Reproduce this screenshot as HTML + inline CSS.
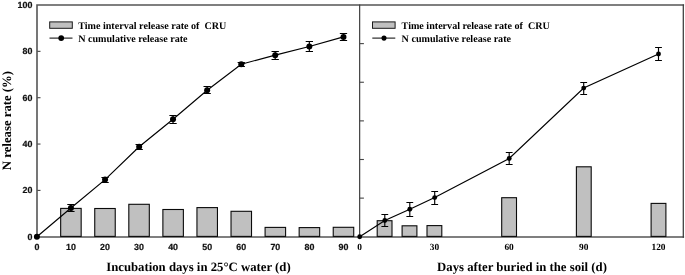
<!DOCTYPE html>
<html><head><meta charset="utf-8"><title>N release rate</title>
<style>
html,body{margin:0;padding:0;background:#fff;}
body{width:685px;height:275px;overflow:hidden;}
svg{display:block;will-change:transform;filter:grayscale(1) blur(0.3px);}
text{font-family:"Liberation Serif",serif;font-weight:bold;fill:#000;text-rendering:geometricPrecision;}
.s{font-family:"Liberation Sans",sans-serif;font-weight:bold;font-size:8.9px;fill:#111;stroke:#111;stroke-width:0.2px;}
.r{font-size:9.4px;}
.lg{font-size:10.1px;}
.tt{font-size:12.75px;}
</style></head><body>
<svg width="685" height="275" viewBox="0 0 685 275">
<rect width="685" height="275" fill="#fff"/>
<g fill="none" stroke-linecap="square">
<path d="M37.0 237.0V5.0H683.3" stroke="#555" stroke-width="1.6"/>
<path d="M37.0 237.0H683.3" stroke="#555" stroke-width="1.6"/>
<path d="M683.3 5.0V237.0" stroke="#3a3a3a" stroke-width="1.25"/>
<path d="M359.65 5.0V237.0" stroke="#404040" stroke-width="1.2"/>
</g>
<g fill="#c0c0c0" stroke="#0a0a0a" stroke-width="1.1">
<rect x="60.67" y="208.40" width="20.5" height="28.00"/>
<rect x="94.74" y="208.50" width="20.5" height="27.90"/>
<rect x="128.81" y="204.30" width="20.5" height="32.10"/>
<rect x="162.88" y="209.50" width="20.5" height="26.90"/>
<rect x="196.95" y="207.60" width="20.5" height="28.80"/>
<rect x="231.02" y="211.30" width="20.5" height="25.10"/>
<rect x="265.09" y="227.40" width="20.5" height="9.00"/>
<rect x="299.16" y="227.60" width="20.5" height="8.80"/>
<rect x="333.23" y="227.30" width="20.5" height="9.10"/>
<rect x="377.20" y="220.70" width="14.8" height="15.70"/>
<rect x="402.10" y="225.80" width="14.8" height="10.60"/>
<rect x="427.00" y="225.60" width="14.8" height="10.80"/>
<rect x="501.70" y="197.70" width="14.8" height="38.70"/>
<rect x="576.40" y="166.80" width="14.8" height="69.60"/>
<rect x="651.10" y="203.40" width="14.8" height="33.00"/>
</g>
<g stroke="#444" stroke-width="1.1">
<path d="M37.3 190.40h3.2"/>
<path d="M37.3 144.05h3.2"/>
<path d="M37.3 97.70h3.2"/>
<path d="M37.3 51.35h3.2"/>
<path d="M359.7 198.12h4.2"/>
<path d="M359.7 159.50h4.2"/>
<path d="M359.7 120.88h4.2"/>
<path d="M359.7 82.25h4.2"/>
<path d="M359.7 43.62h4.2"/>
</g>
<text class="s" x="32.4" y="239.60" text-anchor="end">0</text>
<text class="s" x="32.4" y="193.25" text-anchor="end">20</text>
<text class="s" x="32.4" y="146.90" text-anchor="end">40</text>
<text class="s" x="32.4" y="100.55" text-anchor="end">60</text>
<text class="s" x="32.4" y="54.20" text-anchor="end">80</text>
<text class="s" x="32.4" y="7.85" text-anchor="end">100</text>
<text class="s" x="36.85" y="249.9" text-anchor="middle">0</text>
<text class="s" x="70.92" y="249.9" text-anchor="middle">10</text>
<text class="s" x="104.99" y="249.9" text-anchor="middle">20</text>
<text class="s" x="139.06" y="249.9" text-anchor="middle">30</text>
<text class="s" x="173.13" y="249.9" text-anchor="middle">40</text>
<text class="s" x="207.20" y="249.9" text-anchor="middle">50</text>
<text class="s" x="241.27" y="249.9" text-anchor="middle">60</text>
<text class="s" x="275.34" y="249.9" text-anchor="middle">70</text>
<text class="s" x="309.41" y="249.9" text-anchor="middle">80</text>
<text class="s" x="343.48" y="249.9" text-anchor="middle">90</text>
<text class="r" x="359.70" y="250" text-anchor="middle">0</text>
<text class="r" x="434.40" y="250" text-anchor="middle">30</text>
<text class="r" x="509.10" y="250" text-anchor="middle">60</text>
<text class="r" x="583.80" y="250" text-anchor="middle">90</text>
<text class="r" x="658.50" y="250" text-anchor="middle">120</text>
<g stroke="#000" stroke-width="1.15" fill="none">
<polyline points="36.9,236.75 70.92,207.96 105.07,179.6 139.17,146.8 173.03,119.26 207.15,90.26 241.27,64.19 275.2,55.14 309.34,46.44 343.47,36.88"/>
<path d="M70.92 204.5V211.5M67.27 204.5h7.3M67.27 211.5h7.3"/>
<path d="M105.07 177.5V182.5M101.42 177.5h7.3M101.42 182.5h7.3"/>
<path d="M139.17 144.5V149.5M135.52 144.5h7.3M135.52 149.5h7.3"/>
<path d="M173.03 115.5V123.5M169.38 115.5h7.3M169.38 123.5h7.3"/>
<path d="M207.15 86.5V93.5M203.50 86.5h7.3M203.50 93.5h7.3"/>
<path d="M241.27 62.5V66.5M237.62 62.5h7.3M237.62 66.5h7.3"/>
<path d="M275.2 51.5V59.5M271.55 51.5h7.3M271.55 59.5h7.3"/>
<path d="M309.34 41.5V51.5M305.69 41.5h7.3M305.69 51.5h7.3"/>
<path d="M343.47 33.5V40.5M339.82 33.5h7.3M339.82 40.5h7.3"/>
</g>
<g fill="#000">
<circle cx="36.9" cy="236.75" r="3.0"/>
<circle cx="70.92" cy="207.96" r="3.0"/>
<circle cx="105.07" cy="179.6" r="3.0"/>
<circle cx="139.17" cy="146.8" r="3.0"/>
<circle cx="173.03" cy="119.26" r="3.0"/>
<circle cx="207.15" cy="90.26" r="3.0"/>
<circle cx="241.27" cy="64.19" r="3.0"/>
<circle cx="275.2" cy="55.14" r="3.0"/>
<circle cx="309.34" cy="46.44" r="3.0"/>
<circle cx="343.47" cy="36.88" r="3.0"/>
</g>
<g stroke="#000" stroke-width="1.15" fill="none">
<polyline points="359.7,236.75 384.8,220.5 409.8,209.3 434.7,197.6 509.2,158.5 583.7,88.1 658.5,54.0"/>
<path d="M384.8 214.5V226.5M381.40 214.5h6.8M381.40 226.5h6.8"/>
<path d="M409.8 202.5V216.5M406.40 202.5h6.8M406.40 216.5h6.8"/>
<path d="M434.7 191.5V204.5M431.30 191.5h6.8M431.30 204.5h6.8"/>
<path d="M509.2 152.5V164.5M505.80 152.5h6.8M505.80 164.5h6.8"/>
<path d="M583.7 82.5V94.5M580.30 82.5h6.8M580.30 94.5h6.8"/>
<path d="M658.5 47.5V60.5M655.10 47.5h6.8M655.10 60.5h6.8"/>
</g>
<g fill="#000">
<circle cx="359.7" cy="236.75" r="2.45"/>
<circle cx="384.8" cy="220.5" r="2.45"/>
<circle cx="409.8" cy="209.3" r="2.45"/>
<circle cx="434.7" cy="197.6" r="2.45"/>
<circle cx="509.2" cy="158.5" r="2.45"/>
<circle cx="583.7" cy="88.1" r="2.45"/>
<circle cx="658.5" cy="54.0" r="2.45"/>
</g>
<rect x="49.7" y="21.9" width="22.6" height="6.4" fill="#c0c0c0" stroke="#1a1a1a" stroke-width="1"/>
<path d="M49.5 38.1h23" stroke="#000" stroke-width="1"/>
<circle cx="61.2" cy="38.1" r="2.9" fill="#000"/>
<text class="lg" x="78.2" y="28.7" xml:space="preserve">Time interval release rate of  CRU</text>
<text class="lg" x="78.2" y="41.6">N cumulative release rate</text>
<rect x="372.5" y="21.9" width="22.6" height="6.4" fill="#c0c0c0" stroke="#1a1a1a" stroke-width="1"/>
<path d="M372.3 38.1h23" stroke="#000" stroke-width="1"/>
<circle cx="384.0" cy="38.1" r="2.55" fill="#000"/>
<text class="lg" x="401.6" y="28.7" xml:space="preserve">Time interval release rate of  CRU</text>
<text class="lg" x="401.6" y="41.6">N cumulative release rate</text>
<text class="tt" x="198.4" y="270.7" text-anchor="middle">Incubation days in 25°C water (d)</text>
<text class="tt" x="522.0" y="270.7" text-anchor="middle">Days after buried in the soil (d)</text>
<text class="tt" transform="translate(10.9 120.5) rotate(-90)" text-anchor="middle">N release rate (%)</text>
</svg>
</body></html>
